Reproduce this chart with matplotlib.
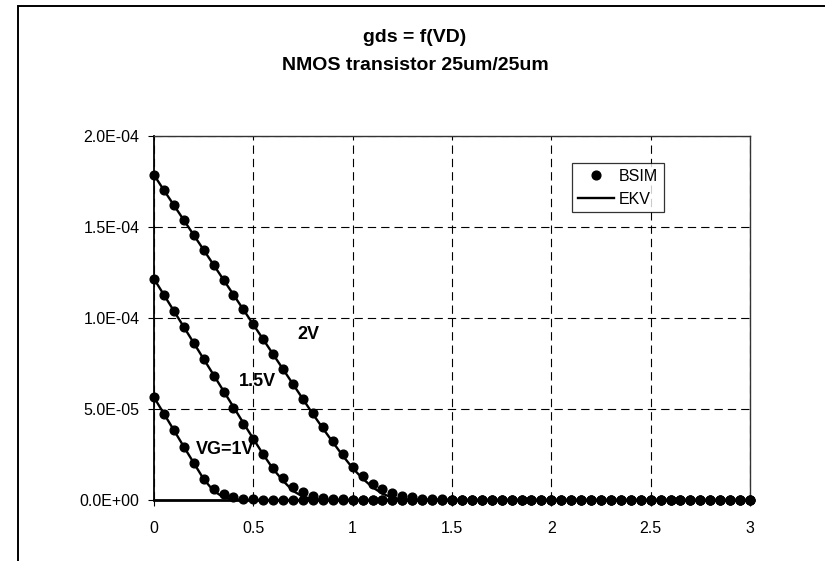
import matplotlib
matplotlib.use('Agg')
import matplotlib.pyplot as plt
from matplotlib.lines import Line2D
from matplotlib.patches import Rectangle
from matplotlib.ticker import FuncFormatter, MultipleLocator

# ---------------- data (gds in uS-equivalent * 1e-6 A/V) ----------------
vd = [0.00, 0.05, 0.10, 0.15, 0.20, 0.25, 0.30, 0.35, 0.40, 0.45,
      0.50, 0.55, 0.60, 0.65, 0.70, 0.75, 0.80, 0.85, 0.90, 0.95,
      1.00, 1.05, 1.10, 1.15, 1.20, 1.25, 1.30, 1.35, 1.40, 1.45,
      1.50, 1.55, 1.60, 1.65, 1.70, 1.75, 1.80, 1.85, 1.90, 1.95,
      2.00, 2.05, 2.10, 2.15, 2.20, 2.25, 2.30, 2.35, 2.40, 2.45,
      2.50, 2.55, 2.60, 2.65, 2.70, 2.75, 2.80, 2.85, 2.90, 2.95,
      3.00]

bsim_vg2 = [178.6, 170.2, 162.0, 153.8, 145.5, 137.4, 129.2, 121.0, 112.9, 104.7,
            96.5, 88.4, 80.2, 72.0, 63.9, 55.7, 47.6, 40.0, 32.6, 25.2,
            18.4, 13.0, 9.0, 6.0, 4.0, 2.4, 1.4, 0.8, 0.5, 0.3,
            0.2, 0.1, 0.1, 0.1, 0.1, 0.1, 0.1, 0.1, 0.1, 0.1,
            0.1, 0.1, 0.1, 0.1, 0.1, 0.1, 0.1, 0.1, 0.1, 0.1,
            0.1, 0.1, 0.1, 0.1, 0.1, 0.1, 0.1, 0.1, 0.1, 0.1,
            0.1]
bsim_vg15 = [121.5, 112.8, 104.0, 95.2, 86.3, 77.3, 68.4, 59.5, 50.7, 42.0,
             33.6, 25.3, 17.8, 12.2, 7.0, 4.2, 2.3, 1.3, 0.7, 0.4,
             0.2, 0.1, 0.1, 0.1, 0.1, 0.1, 0.1, 0.1, 0.1, 0.1,
             0.1, 0.1, 0.1, 0.1, 0.1, 0.1, 0.1, 0.1, 0.1, 0.1,
             0.1, 0.1, 0.1, 0.1, 0.1, 0.1, 0.1, 0.1, 0.1, 0.1,
             0.1, 0.1, 0.1, 0.1, 0.1, 0.1, 0.1, 0.1, 0.1, 0.1,
             0.1]
bsim_vg1 = [56.4, 47.4, 38.5, 29.2, 20.4, 11.8, 6.3, 3.4, 1.6, 0.8,
            0.4, 0.2, 0.1, 0.1, 0.1, 0.1, 0.1, 0.1, 0.1, 0.1,
            0.1, 0.1, 0.1, 0.1, 0.1, 0.1, 0.1, 0.1, 0.1, 0.1,
            0.1, 0.1, 0.1, 0.1, 0.1, 0.1, 0.1, 0.1, 0.1, 0.1,
            0.1, 0.1, 0.1, 0.1, 0.1, 0.1, 0.1, 0.1, 0.1, 0.1,
            0.1, 0.1, 0.1, 0.1, 0.1, 0.1, 0.1, 0.1, 0.1, 0.1,
            0.1]

ekv_vg2 = [178.6, 170.2, 162.0, 153.8, 145.6, 137.4, 129.2, 121.0, 112.8, 104.6,
           96.4, 88.2, 80.0, 71.8, 63.6, 55.4, 47.2, 39.4, 31.8, 24.4,
           17.5, 11.8, 7.0, 3.5, 1.2, 0.4, 0.15, 0.05, 0.0, 0.0,
           0.0, 0.0, 0.0, 0.0, 0.0, 0.0, 0.0, 0.0, 0.0, 0.0,
           0.0, 0.0, 0.0, 0.0, 0.0, 0.0, 0.0, 0.0, 0.0, 0.0,
           0.0, 0.0, 0.0, 0.0, 0.0, 0.0, 0.0, 0.0, 0.0, 0.0,
           0.0]
ekv_vg15 = [121.5, 112.7, 103.9, 95.1, 86.3, 77.5, 68.7, 59.9, 51.1, 42.3,
            33.6, 25.0, 17.0, 10.5, 5.0, 1.8, 0.5, 0.1, 0.0, 0.0,
            0.0, 0.0, 0.0, 0.0, 0.0, 0.0, 0.0, 0.0, 0.0, 0.0,
            0.0, 0.0, 0.0, 0.0, 0.0, 0.0, 0.0, 0.0, 0.0, 0.0,
            0.0, 0.0, 0.0, 0.0, 0.0, 0.0, 0.0, 0.0, 0.0, 0.0,
            0.0, 0.0, 0.0, 0.0, 0.0, 0.0, 0.0, 0.0, 0.0, 0.0,
            0.0]
ekv_vg1 = [56.4, 47.4, 38.4, 29.3, 20.4, 11.5, 5.0, 1.5, 0.3, 0.05,
           0.0, 0.0, 0.0, 0.0, 0.0, 0.0, 0.0, 0.0, 0.0, 0.0,
           0.0, 0.0, 0.0, 0.0, 0.0, 0.0, 0.0, 0.0, 0.0, 0.0,
           0.0, 0.0, 0.0, 0.0, 0.0, 0.0, 0.0, 0.0, 0.0, 0.0,
           0.0, 0.0, 0.0, 0.0, 0.0, 0.0, 0.0, 0.0, 0.0, 0.0,
           0.0, 0.0, 0.0, 0.0, 0.0, 0.0, 0.0, 0.0, 0.0, 0.0,
           0.0]

scale = 1e-6
curve_labels = ['2V', '1.5V', 'VG=1V']
label_pos = [(0.775, 91e-6), (0.522, 65e-6), (0.357, 28e-6)]
title_lines = ['gds = f(VD)', 'NMOS transistor 25um/25um']
legend_labels = ['BSIM', 'EKV']

# ---------------- figure ----------------
plt.rcParams['font.family'] = ['Liberation Sans', 'DejaVu Sans']
plt.rcParams['lines.scale_dashes'] = False

W, H = 825, 561
fig = plt.figure(figsize=(W / 100, H / 100), dpi=100)
fig.patch.set_facecolor('white')

# outer chart border (left & top visible)
fig.patches.append(Rectangle((18 / W, -0.2), 1.5, 1.2 - 6 / H,
                             transform=fig.transFigure, fill=False,
                             lw=1.4, ec='black'))

ax = fig.add_axes([154 / W, 1 - 500 / H, (750 - 154) / W, (500 - 136) / H])

for ekv in (ekv_vg2, ekv_vg15, ekv_vg1):
    ax.plot(vd, [v * scale for v in ekv], color='black', lw=1.7,
            zorder=3, solid_joinstyle='round')
for bs in (bsim_vg2, bsim_vg15, bsim_vg1):
    ax.plot(vd, [v * scale for v in bs], 'o', color='black', ms=6.3,
            zorder=4, clip_on=False)

ax.set_xlim(0, 3)
ax.set_ylim(0, 2e-4)
ax.xaxis.set_major_locator(MultipleLocator(0.5))
ax.yaxis.set_major_locator(MultipleLocator(5e-5))
ax.xaxis.set_major_formatter(FuncFormatter(lambda v, p: f"{v:g}"))
ax.yaxis.set_major_formatter(FuncFormatter(lambda v, p: f"{v:.1E}"))

ax.grid(True, color='black', lw=0.8, linestyle=(0, (6, 3.6)))
ax.set_axisbelow(True)

for side in ('top', 'right'):
    ax.spines[side].set_color('#333333')
    ax.spines[side].set_linewidth(1.0)
ax.spines['left'].set_linewidth(1.3)
ax.spines['bottom'].set_linewidth(2.0)

ax.tick_params(axis='x', direction='out', length=4.3, width=0.8,
               labelsize=11.5, pad=11)
ax.tick_params(axis='y', direction='out', length=4, width=0.8,
               labelsize=11.5, pad=6.5)

for txt, (x, y) in zip(curve_labels, label_pos):
    ax.text(x, y, txt, ha='center', va='center', fontsize=13,
            weight='bold', zorder=5)

fig.text(415 / W, 1 - 38 / H, title_lines[0], ha='center', va='center',
         fontsize=14, weight='bold')
fig.text(415 / W, 1 - 66 / H, title_lines[1], ha='center', va='center',
         fontsize=14, weight='bold')

handles = [Line2D([], [], ls='none', marker='o', color='black', ms=6.3),
           Line2D([], [], color='black', lw=1.7)]
leg = ax.legend(handles, legend_labels, loc='upper left',
                bbox_to_anchor=(572 / W, 1 - 163 / H),
                bbox_transform=fig.transFigure, borderaxespad=0,
                fontsize=11.5, frameon=True, fancybox=False,
                handlelength=2.3, handletextpad=0.3, labelspacing=0.5,
                borderpad=0.35)
leg.get_frame().set_edgecolor('black')
leg.get_frame().set_linewidth(0.9)

fig.savefig('out.png', dpi=100, facecolor='white')
